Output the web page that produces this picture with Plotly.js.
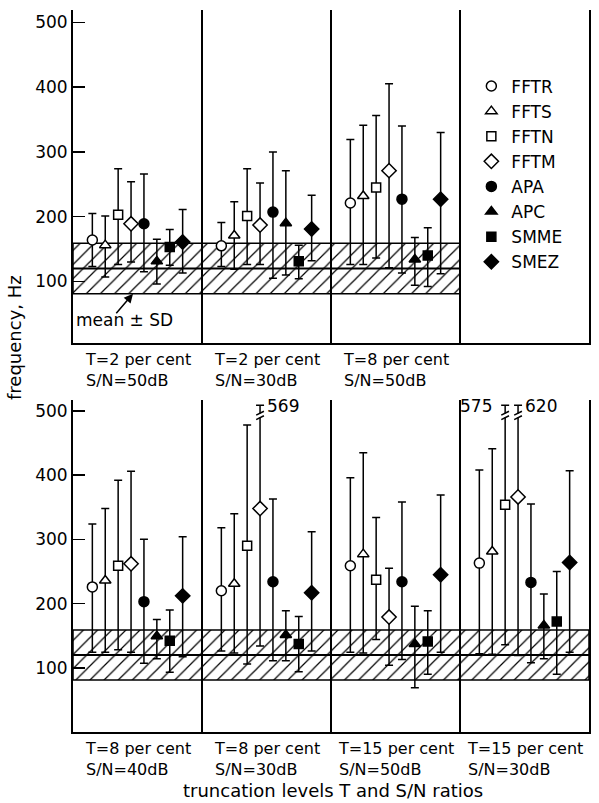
<!DOCTYPE html>
<html>
<head>
<meta charset="utf-8">
<script src="https://cdn.plot.ly/plotly-3.0.1.min.js"></script>
<style>html,body{margin:0;padding:0;background:#fff;}#chart{width:599px;height:803px;}</style>
</head>
<body>
<div id="chart"></div>
<script>
// ---------- data ----------
const series = ['FFTR', 'FFTS', 'FFTN', 'FFTM', 'APA', 'APC', 'SMME', 'SMEZ'];
const topGroups = ['T=2 per cent<br>S/N=50dB', 'T=2 per cent<br>S/N=30dB', 'T=8 per cent<br>S/N=50dB'];
const bottomGroups = ['T=8 per cent<br>S/N=40dB', 'T=8 per cent<br>S/N=30dB', 'T=15 per cent<br>S/N=50dB', 'T=15 per cent<br>S/N=30dB'];

// rows = groups, columns = series (FFTR..SMEZ)
const topMean = [
  [164, 156, 203, 189, 189, 131, 153, 161],
  [155, 171, 201, 187, 207, 190, 131, 181],
  [221, 232, 245, 271, 227, 134, 140, 227]
];
const topUpper = [
  [205, 201, 274, 254, 266, 165, 180, 211],
  [191, 223, 274, 252, 300, 271, 156, 233],
  [319, 341, 356, 405, 340, 168, 183, 330]
];
const topLower = [
  [123, 107, 126, 130, 115, 96, 125, 113],
  [123, 119, 126, 126, 105, 110, 104, 132],
  [126, 126, 136, 121, 113, 94, 92, 112]
];
const bottomMean = [
  [226, 236, 259, 262, 203, 149, 142, 212],
  [220, 231, 290, 348, 234, 151, 137, 217],
  [259, 277, 237, 179, 234, 137, 141, 245],
  [263, 281, 354, 366, 233, 166, 172, 264]
];
const bottomUpper = [
  [324, 348, 392, 406, 300, 175, 190, 304],
  [318, 340, 478, 569, 363, 189, 180, 312],
  [396, 435, 334, 255, 358, 196, 189, 369],
  [408, 441, 575, 620, 355, 215, 250, 407]
];
const bottomLower = [
  [124, 124, 128, 124, 107, 114, 93, 117],
  [126, 123, 106, 134, 111, 111, 94, 126],
  [124, 123, 144, 104, 113, 69, 90, 124],
  [122, 121, 136, 119, 108, 114, 90, 124]
];
const refMean = 120;
const refSD = 39;
const yTickVals = [100, 200, 300, 400, 500];

// ---------- style ----------
const FONT = 'DejaVu Sans, sans-serif';
const CAP = 509;          // drawn top of clipped (broken) error bars
const BREAK_AT = 493;     // where the break mark sits
const symbols = ['circle', 'triangle-up', 'square', 'diamond', 'circle', 'triangle-up', 'square', 'diamond'];
const sizes = [10, 10, 9, 11, 10, 10, 9, 11];
const filled = [false, false, false, false, true, true, true, true];
const OFF0 = 0.15, STEP = 0.1;

function xPos(g, s) { return g + OFF0 + STEP * s; }

function makeTraces(meanRows, upRows, lowRows, xa, ya, showLeg) {
  const tr = [];
  series.forEach((name, s) => {
    const x = [], y = [], ep = [], em = [];
    meanRows.forEach((row, g) => {
      x.push(xPos(g, s));
      y.push(row[s]);
      ep.push(Math.min(upRows[g][s], CAP) - row[s]);
      em.push(row[s] - lowRows[g][s]);
    });
    tr.push({
      type: 'scatter', mode: 'markers', name: name, x: x, y: y,
      xaxis: xa, yaxis: ya, showlegend: showLeg, legendgroup: name, hoverinfo: 'skip',
      marker: {symbol: symbols[s], size: sizes[s], color: filled[s] ? 'black' : 'white',
               line: {color: 'black', width: 1.5}},
      error_y: {type: 'data', symmetric: false, array: ep, arrayminus: em,
                color: 'black', thickness: 1.5, width: 4}
    });
  });
  return tr;
}

function bandTraces(nGroups, xa, ya) {
  const lo = refMean - refSD, hi = refMean + refSD;
  return [
    {type: 'scatter', mode: 'lines', x: [0, nGroups, nGroups, 0, 0], y: [lo, lo, hi, hi, lo],
     xaxis: xa, yaxis: ya, fill: 'toself', fillcolor: 'rgba(0,0,0,0)',
     fillpattern: {shape: '/', fgcolor: 'black', bgcolor: 'rgba(0,0,0,0)', size: 10, solidity: 0.12},
     line: {color: 'black', width: 1.5}, showlegend: false, hoverinfo: 'skip'},
    {type: 'scatter', mode: 'lines', x: [0, nGroups], y: [refMean, refMean],
     xaxis: xa, yaxis: ya, line: {color: 'black', width: 2}, showlegend: false, hoverinfo: 'skip'}
  ];
}

const traces = [].concat(
  bandTraces(topMean.length, 'x', 'y'),
  bandTraces(bottomMean.length, 'x2', 'y2'),
  makeTraces(topMean, topUpper, topLower, 'x', 'y', true),
  makeTraces(bottomMean, bottomUpper, bottomLower, 'x2', 'y2', false)
);

// ---------- annotations ----------
const ann = [];
const shapes = [];
topGroups.forEach((t, g) => ann.push({
  text: t, xref: 'x', yref: 'paper', x: g + 0.5, y: 0.501, xanchor: 'center', yanchor: 'middle',
  align: 'left', showarrow: false, font: {family: FONT, size: 16, color: 'black'}
}));
bottomGroups.forEach((t, g) => ann.push({
  text: t, xref: 'x2', yref: 'paper', x: g + 0.5, y: -0.038, xanchor: 'center', yanchor: 'middle',
  align: 'left', showarrow: false, font: {family: FONT, size: 16, color: 'black'}
}));
ann.push({text: 'truncation levels T and S/N ratios', xref: 'paper', yref: 'paper', x: 0.504, y: -0.081,
  xanchor: 'center', yanchor: 'middle', showarrow: false, font: {family: FONT, size: 18, color: 'black'}});
ann.push({text: 'frequency, Hz', xref: 'paper', yref: 'paper', x: -0.112, y: 0.546, textangle: -90,
  xanchor: 'center', yanchor: 'middle', showarrow: false, font: {family: FONT, size: 18, color: 'black'}});
ann.push({text: 'mean ± SD', xref: 'x', yref: 'y', x: 0.40, y: 40, xanchor: 'center', yanchor: 'middle',
  showarrow: false, font: {family: FONT, size: 17, color: 'black'}});
ann.push({text: '', xref: 'x', yref: 'y', x: 0.465, y: refMean - refSD, ax: -18, ay: 21,
  showarrow: true, arrowhead: 2, arrowsize: 1.2, arrowwidth: 1.5, arrowcolor: 'black'});

// broken (off-scale) error bars
bottomUpper.forEach((row, g) => {
  const over = [];
  row.forEach((v, s) => { if (v > CAP) over.push(s); });
  over.forEach((s, k) => {
    const xs = xPos(g, s);
    shapes.push({type: 'rect', xref: 'x2', yref: 'y2', x0: xs - 0.02, x1: xs + 0.02,
      y0: BREAK_AT - 3, y1: BREAK_AT + 3, fillcolor: 'white', line: {width: 0}});
    [-1, 1].forEach(d => shapes.push({type: 'line', xref: 'x2', yref: 'y2',
      x0: xs - 0.03, x1: xs + 0.03, y0: BREAK_AT + d * 3.5 - 3, y1: BREAK_AT + d * 3.5 + 3,
      line: {color: 'black', width: 1.5}}));
    const left = over.length > 1 && k === 0;
    ann.push({text: String(row[s]), xref: 'x2', yref: 'y2', x: xs + (left ? -0.09 : 0.04), y: CAP - 2,
      xanchor: left ? 'right' : 'left', yanchor: 'middle', showarrow: false,
      font: {family: FONT, size: 17, color: 'black'}});
  });
});

// ---------- layout ----------
function xAxis(anchor) {
  return {domain: [0, 1], range: [0, 4], anchor: anchor, tickvals: [1, 2, 3], showticklabels: false,
    ticks: '', showgrid: true, gridcolor: 'black', gridwidth: 1.5, showline: true, linecolor: 'black',
    linewidth: 2, zeroline: false, fixedrange: true};
}
function yAxis(anchor, domain, range) {
  return {domain: domain, range: range, anchor: anchor, tickvals: yTickVals, ticks: 'inside', ticklen: 12,
    tickwidth: 1.5, tickcolor: 'black', showline: true, mirror: true, linecolor: 'black', linewidth: 2,
    showgrid: false, zeroline: false, tickfont: {family: FONT, size: 17, color: 'black'}, fixedrange: true};
}

const layout = {
  width: 599, height: 803,
  margin: {l: 73, r: 10, t: 10, b: 71},
  paper_bgcolor: 'white', plot_bgcolor: 'white',
  font: {family: FONT, color: 'black'},
  xaxis: xAxis('y'), yaxis: yAxis('x', [0.5388, 1], [5, 519]),
  xaxis2: xAxis('y2'), yaxis2: yAxis('x2', [0, 0.4598], [0, 517]),
  showlegend: true,
  legend: {x: 0.772, y: 0.919, xanchor: 'left', yanchor: 'top', bgcolor: 'rgba(0,0,0,0)',
    font: {family: FONT, size: 17, color: 'black'}, tracegroupgap: 0, traceorder: 'normal'},
  annotations: ann,
  shapes: shapes
};

Plotly.newPlot('chart', traces, layout, {displayModeBar: false, staticPlot: true});
</script>
</body>
</html>
